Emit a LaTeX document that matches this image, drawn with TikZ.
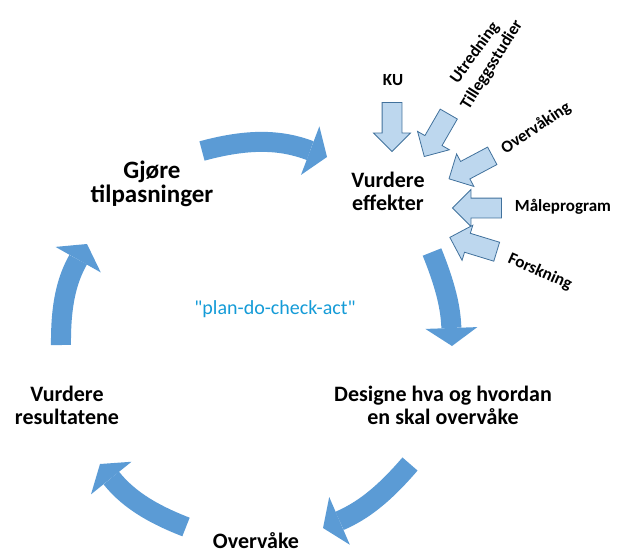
\documentclass[tikz,border=0pt]{standalone}
\usepackage{fontspec}
\setmainfont{Carlito}
\usetikzlibrary{arrows.meta,shapes.arrows}
\definecolor{bigblue}{RGB}{91,155,213}
\definecolor{paleblue}{RGB}{189,215,238}
\definecolor{edgeblue}{RGB}{65,113,156}
\definecolor{textblue}{RGB}{20,155,215}
\begin{document}
\begin{tikzpicture}[x=1pt, y=-1pt,
  stage/.style={font=\fontsize{22}{23}\selectfont\bfseries, align=center},
  src/.style={font=\fontsize{17}{19}\selectfont\bfseries},
  bigarrow/.style={draw=bigblue, line width=20pt, -{Triangle[width=52pt,length=18pt,line width=0pt]}},
  inarrow/.style={single arrow, draw=edgeblue, fill=paleblue, line width=0.8pt,
    inner xsep=0pt, inner ysep=9.5pt, minimum width=36pt, minimum height=49pt,
    single arrow head extend=8.5pt}]
\useasboundingbox (0,0) rectangle (622,552);
% the cycle
\node[stage] (eff) at (388,191) {Vurdere\\effekter};
\node[stage, font=\fontsize{25}{24}\selectfont\bfseries] (tilp) at (152,184) {Gjøre\\tilpasninger};
\node[stage] (design) at (443,405) {Designe hva og hvordan\\en skal overvåke};
\node[stage, anchor=base] (ovv) at (256,548) {Overvåke};
\node[stage] (res) at (67,405) {Vurdere\\resultatene};
\node[font=\fontsize{20}{24}\selectfont, text=textblue] (pdca) at (275,309) {\textquotedbl plan-do-check-act\textquotedbl};
\coordinate (t1) at (202,151); \coordinate (t2) at (327,157);
\coordinate (r1) at (432,252); \coordinate (r2) at (452,346);
\coordinate (b1) at (410,464); \coordinate (b2) at (323,528);
\coordinate (l1) at (186,527); \coordinate (l2) at (100,464);
\coordinate (u1) at (61,345);  \coordinate (u2) at (87,244);
\draw[bigarrow] (t1) to[bend left=18] (t2);
\draw[bigarrow] (r1) to[bend left=10] (r2);
\draw[bigarrow] (b1) to[bend left=13] (b2);
\draw[bigarrow] (l1) to[bend left=15] (l2);
\draw[bigarrow] (u1) to[bend left=15] (u2);
% inputs to Vurdere effekter
\node[src] (ku) at (393,80) {KU};
\node[src, rotate=54] (utr) at (475,53) {Utredning};
\node[src, rotate=58] (till) at (492,65) {Tilleggsstudier};
\node[src, rotate=34] (ovk) at (536,128) {Overvåking};
\node[src] (maal) at (563,207) {Måleprogram};
\node[src, rotate=-24] (forsk) at (540,272) {Forskning};
\node[inarrow, rotate=270] (aku) at (392,122) {};
\node[inarrow, rotate=240] (autr) at (439,131) {};
\node[inarrow, rotate=208] (aovk) at (475,165) {};
\node[inarrow, rotate=180] (amaal) at (482,208) {};
\node[inarrow, rotate=163] (aforsk) at (478,246) {};
\end{tikzpicture}
\end{document}
